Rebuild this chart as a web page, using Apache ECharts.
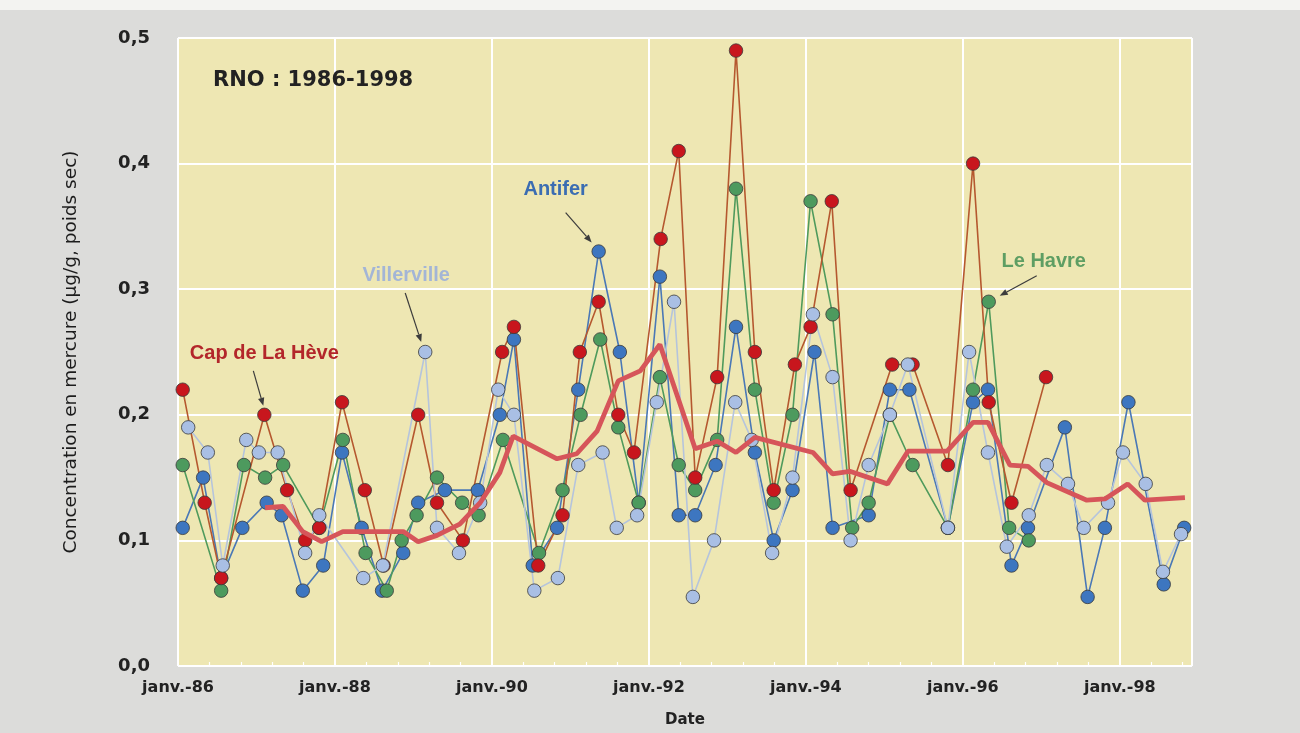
<!DOCTYPE html>
<html>
<head>
<meta charset="utf-8">
<script src="https://cdn.jsdelivr.net/npm/echarts@6/dist/echarts.min.js"></script>
<style>
  html, body { margin: 0; padding: 0; background: #dcdcda; }
  #chart { width: 1300px; height: 733px; }
</style>
</head>
<body>
<div id="chart"></div>
<script>
// Mercury in mussels (RNO network), sampling dates as decimal years, values in µg/g dry weight

const capDates = [1986.06, 1986.34, 1986.55, 1987.10, 1987.39, 1987.62, 1987.80, 1988.09, 1988.38, 1988.62,
  1989.06, 1989.30, 1989.63, 1990.13, 1990.28, 1990.59, 1990.90, 1991.12, 1991.36, 1991.61,
  1991.81, 1992.15, 1992.38, 1992.59, 1992.87, 1993.11, 1993.35, 1993.59, 1993.86, 1994.06,
  1994.33, 1994.57, 1995.10, 1995.36, 1995.81, 1996.13, 1996.33, 1996.62, 1997.06];
const capValues = [0.22, 0.13, 0.07, 0.20, 0.14, 0.10, 0.11, 0.21, 0.14, 0.08,
  0.20, 0.13, 0.10, 0.25, 0.27, 0.08, 0.12, 0.25, 0.29, 0.20,
  0.17, 0.34, 0.41, 0.15, 0.23, 0.49, 0.25, 0.14, 0.24, 0.27,
  0.37, 0.14, 0.24, 0.24, 0.16, 0.40, 0.21, 0.13, 0.23];

const havreDates = [1986.06, 1986.55, 1986.84, 1987.11, 1987.34, 1987.80, 1988.10, 1988.39, 1988.66, 1988.85,
  1989.04, 1989.30, 1989.62, 1989.83, 1990.14, 1990.60, 1990.90, 1991.13, 1991.38, 1991.61,
  1991.87, 1992.14, 1992.38, 1992.59, 1992.87, 1993.11, 1993.35, 1993.59, 1993.83, 1994.06,
  1994.34, 1994.59, 1994.80, 1995.07, 1995.36, 1995.81, 1996.13, 1996.33, 1996.59, 1996.84];
const havreValues = [0.16, 0.06, 0.16, 0.15, 0.16, 0.11, 0.18, 0.09, 0.06, 0.10,
  0.12, 0.15, 0.13, 0.12, 0.18, 0.09, 0.14, 0.20, 0.26, 0.19,
  0.13, 0.23, 0.16, 0.14, 0.18, 0.38, 0.22, 0.13, 0.20, 0.37,
  0.28, 0.11, 0.13, 0.20, 0.16, 0.11, 0.22, 0.29, 0.11, 0.10];

const antiferDates = [1986.06, 1986.32, 1986.55, 1986.82, 1987.13, 1987.32, 1987.59, 1987.85, 1988.09, 1988.34,
  1988.60, 1988.87, 1989.06, 1989.40, 1989.82, 1990.10, 1990.28, 1990.52, 1990.83, 1991.10,
  1991.36, 1991.63, 1991.87, 1992.14, 1992.38, 1992.59, 1992.85, 1993.11, 1993.35, 1993.59,
  1993.83, 1994.11, 1994.34, 1994.80, 1995.07, 1995.32, 1995.81, 1996.13, 1996.32, 1996.62,
  1996.83, 1997.30, 1997.59, 1997.81, 1998.11, 1998.56, 1998.82];
const antiferValues = [0.11, 0.15, 0.07, 0.11, 0.13, 0.12, 0.06, 0.08, 0.17, 0.11,
  0.06, 0.09, 0.13, 0.14, 0.14, 0.20, 0.26, 0.08, 0.11, 0.22,
  0.33, 0.25, 0.13, 0.31, 0.12, 0.12, 0.16, 0.27, 0.17, 0.10,
  0.14, 0.25, 0.11, 0.12, 0.22, 0.22, 0.11, 0.21, 0.22, 0.08,
  0.11, 0.19, 0.055, 0.11, 0.21, 0.065, 0.11];

const villervilleDates = [1986.13, 1986.38, 1986.57, 1986.87, 1987.03, 1987.27, 1987.62, 1987.80, 1988.36, 1988.61,
  1989.15, 1989.30, 1989.58, 1989.85, 1990.08, 1990.28, 1990.54, 1990.84, 1991.10, 1991.41,
  1991.59, 1991.85, 1992.10, 1992.32, 1992.56, 1992.83, 1993.10, 1993.31, 1993.57, 1993.83,
  1994.09, 1994.34, 1994.57, 1994.80, 1995.07, 1995.30, 1995.81, 1996.08, 1996.32, 1996.56,
  1996.84, 1997.07, 1997.34, 1997.54, 1997.85, 1998.04, 1998.33, 1998.55, 1998.78];
const villervilleValues = [0.19, 0.17, 0.08, 0.18, 0.17, 0.17, 0.09, 0.12, 0.07, 0.08,
  0.25, 0.11, 0.09, 0.13, 0.22, 0.20, 0.06, 0.07, 0.16, 0.17,
  0.11, 0.12, 0.21, 0.29, 0.055, 0.10, 0.21, 0.18, 0.09, 0.15,
  0.28, 0.23, 0.10, 0.16, 0.20, 0.24, 0.11, 0.25, 0.17, 0.095,
  0.12, 0.16, 0.145, 0.11, 0.13, 0.17, 0.145, 0.075, 0.105];

// Running mean of the four stations
const averageDates = [1987.11, 1987.34, 1987.59, 1987.83, 1988.10, 1988.87, 1989.06, 1989.30, 1989.59, 1989.85,
  1990.10, 1990.27, 1990.83, 1991.08, 1991.34, 1991.61, 1991.89, 1992.14, 1992.59, 1992.87,
  1993.11, 1993.35, 1994.09, 1994.34, 1994.56, 1995.04, 1995.30, 1995.80, 1996.13, 1996.32,
  1996.60, 1996.83, 1997.07, 1997.58, 1997.81, 1998.10, 1998.32, 1998.83];
const averageValues = [0.126, 0.127, 0.107, 0.099, 0.107, 0.107, 0.099, 0.104, 0.113, 0.130,
  0.154, 0.183, 0.165, 0.169, 0.187, 0.227, 0.235, 0.256, 0.173, 0.179,
  0.170, 0.182, 0.170, 0.153, 0.155, 0.145, 0.171, 0.171, 0.194, 0.194,
  0.160, 0.159, 0.146, 0.132, 0.133, 0.145, 0.132, 0.134];

const yearTicks = [1986, 1988, 1990, 1992, 1994, 1996, 1998];
const yearLabels = ['janv.-86', 'janv.-88', 'janv.-90', 'janv.-92', 'janv.-94', 'janv.-96', 'janv.-98'];

const pairs = (d, v) => d.map((x, i) => [x, v[i]]);

function station(name, dates, values, lineColor, dotColor) {
  return {
    name: name,
    type: 'line',
    data: pairs(dates, values),
    symbol: 'circle',
    symbolSize: 13.5,
    showAllSymbol: true,
    lineStyle: { color: lineColor, width: 1.6 },
    itemStyle: { color: dotColor, borderColor: '#3a3a3a', borderWidth: 0.8 },
    emphasis: { disabled: true },
    animation: false
  };
}

const chart = echarts.init(document.getElementById('chart'));

chart.setOption({
  backgroundColor: '#dcdcda',
  animation: false,
  grid: {
    left: 178, right: 108, top: 38, bottom: 66,
    show: true, backgroundColor: '#eee7b3', borderWidth: 0
  },
  xAxis: {
    type: 'value',
    min: 1986, max: 1998.92, interval: 2,
    name: 'Date', nameLocation: 'middle', nameGap: 47,
    nameTextStyle: { fontFamily: 'DejaVu Sans', fontWeight: 'bold', fontSize: 15, color: '#222' },
    axisLine: { show: false },
    axisTick: { show: true, inside: true, length: 5, lineStyle: { color: '#ffffff', width: 1.5 } },
    minorTick: { show: true, splitNumber: 5, length: 4, lineStyle: { color: '#ffffff', width: 1.2 } },
    splitLine: { show: true, lineStyle: { color: '#ffffff', width: 2 } },
    axisLabel: {
      margin: 14,
      fontFamily: 'DejaVu Sans', fontWeight: 'bold', fontSize: 16, color: '#222',
      formatter: v => { const i = yearTicks.indexOf(Math.round(v * 100) / 100); return i >= 0 ? yearLabels[i] : ''; }
    }
  },
  yAxis: {
    type: 'value',
    min: 0, max: 0.5, interval: 0.1,
    name: 'Concentration en mercure (µg/g, poids sec)',
    nameLocation: 'middle', nameRotate: 90, nameGap: 97,
    nameTextStyle: { fontFamily: 'DejaVu Sans', fontSize: 18.5, color: '#1c1c1c' },
    axisLine: { show: false },
    axisTick: { show: false },
    splitLine: { show: true, lineStyle: { color: '#ffffff', width: 2 } },
    axisLabel: {
      margin: 28,
      fontFamily: 'DejaVu Sans', fontWeight: 'bold', fontSize: 18, color: '#222',
      formatter: v => v.toFixed(1).replace('.', ',')
    }
  },
  series: [
    station('Antifer', antiferDates, antiferValues, '#4a78b6', '#3d76c0'),
    station('Le Havre', havreDates, havreValues, '#4f9a5c', '#4d9a5e'),
    station('Cap de La Hève', capDates, capValues, '#b5582f', '#c8161d'),
    station('Villerville', villervilleDates, villervilleValues, '#b5c4dc', '#a9bfe4'),
    {
      name: 'Moyenne',
      type: 'line',
      data: pairs(averageDates, averageValues),
      symbol: 'none',
      lineStyle: { color: '#d6555a', width: 4.8 },
      z: 5,
      emphasis: { disabled: true },
      animation: false
    }
  ]
});

// Station callouts: a label with a short arrow pointing at one sample
const notes = [
  { text: 'Cap de La Hève', dates: capDates, values: capValues, index: 3, color: '#b3262a',
    label: [0, -61], from: [-11, -44], to: [-1, -9] },
  { text: 'Villerville', dates: villervilleDates, values: villervilleValues, index: 10, color: '#a3b5d6',
    label: [-19, -77], from: [-20, -59], to: [-4, -10] },
  { text: 'Antifer', dates: antiferDates, values: antiferValues, index: 20, color: '#3b6db2',
    label: [-43, -62], from: [-33, -39], to: [-7, -9] },
  { text: 'Le Havre', dates: havreDates, values: havreValues, index: 37, color: '#5e9e63',
    label: [55, -40], from: [48, -26], to: [11, -6] }
];

const graphics = [
  { type: 'rect', left: 0, top: 0, shape: { width: 1300, height: 10 }, style: { fill: '#f3f3f1' }, z: 1 },
  { type: 'text', x: 213, y: 81, z: 100,
    style: { text: 'RNO : 1986-1998', fill: '#222', font: 'bold 21px "DejaVu Sans"',
             align: 'left', verticalAlign: 'middle', textAlign: 'left', textVerticalAlign: 'middle' } }
];

notes.forEach(n => {
  const p = chart.convertToPixel({ gridIndex: 0 }, [n.dates[n.index], n.values[n.index]]);
  const sx = p[0] + n.from[0], sy = p[1] + n.from[1];
  const ex = p[0] + n.to[0], ey = p[1] + n.to[1];
  const len = Math.hypot(ex - sx, ey - sy);
  const ux = (ex - sx) / len, uy = (ey - sy) / len;
  const head = 8, half = 3.2;
  const bx = ex - ux * head, by = ey - uy * head;
  graphics.push({
    type: 'text', x: p[0] + n.label[0], y: p[1] + n.label[1], z: 100,
    style: { text: n.text, fill: n.color, font: 'bold 20px "Liberation Sans"',
             align: 'center', verticalAlign: 'middle', textAlign: 'center', textVerticalAlign: 'middle' }
  });
  graphics.push({
    type: 'line', z: 100,
    shape: { x1: sx, y1: sy, x2: bx, y2: by },
    style: { stroke: '#3c3c3c', lineWidth: 1.2 }
  });
  graphics.push({
    type: 'polygon', z: 100,
    shape: { points: [[ex, ey], [bx - uy * half, by + ux * half], [bx + uy * half, by - ux * half]] },
    style: { fill: '#3c3c3c' }
  });
});

chart.setOption({ graphic: graphics });
</script>
</body>
</html>
